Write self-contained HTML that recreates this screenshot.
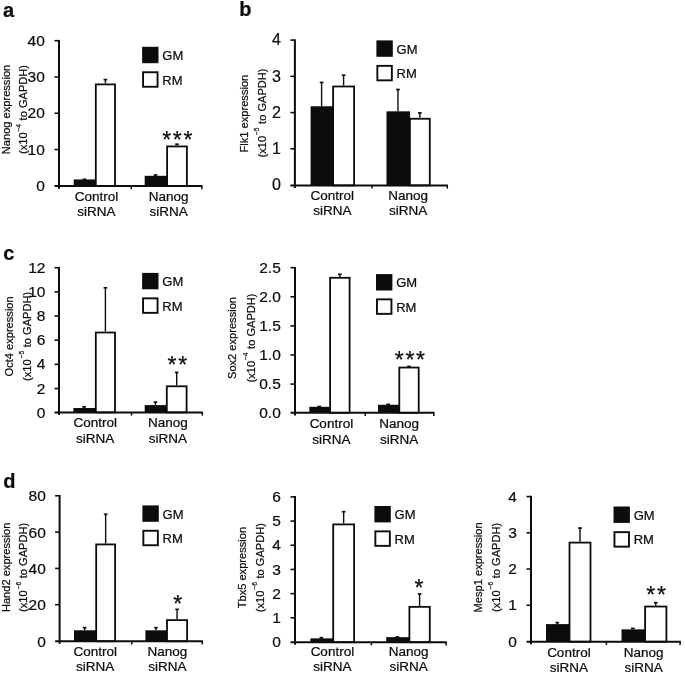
<!DOCTYPE html>
<html>
<head>
<meta charset="utf-8">
<title>Figure</title>
<style>
html, body { margin: 0; padding: 0; background: #ffffff; }
body { width: 685px; height: 674px; overflow: hidden; }
svg { display: block; font-family: "Liberation Sans", sans-serif; fill: #0c0c0c; will-change: transform; }
text { stroke: #0c0c0c; stroke-width: 0.22px; }
</style>
</head>
<body>
<svg width="685" height="674" viewBox="0 0 685 674">
<rect x="0" y="0" width="685" height="674" fill="#ffffff"/>
<g>
<line x1="84.45" y1="179.45" x2="84.45" y2="179.02" stroke="#0c0c0c" stroke-width="1.4"/>
<line x1="82.65" y1="179.32" x2="86.25" y2="179.32" stroke="#0c0c0c" stroke-width="1.7"/>
<rect x="73.7" y="179.45" width="22.2" height="6.65" fill="#0c0c0c"/>
<line x1="105.4" y1="83.5" x2="105.4" y2="79.33" stroke="#0c0c0c" stroke-width="1.4"/>
<line x1="103.6" y1="79.63" x2="107.2" y2="79.63" stroke="#0c0c0c" stroke-width="1.7"/>
<rect x="95.8" y="84.4" width="19.2" height="101.7" fill="#fff" stroke="#0c0c0c" stroke-width="1.8"/>
<line x1="155.55" y1="175.82" x2="155.55" y2="174.74" stroke="#0c0c0c" stroke-width="1.4"/>
<line x1="153.75" y1="175.04" x2="157.35" y2="175.04" stroke="#0c0c0c" stroke-width="1.7"/>
<rect x="144.7" y="175.82" width="22.4" height="10.28" fill="#0c0c0c"/>
<line x1="177" y1="145.53" x2="177" y2="143.9" stroke="#0c0c0c" stroke-width="1.4"/>
<line x1="175.2" y1="144.2" x2="178.8" y2="144.2" stroke="#0c0c0c" stroke-width="1.7"/>
<rect x="167.1" y="146.43" width="19.8" height="39.67" fill="#fff" stroke="#0c0c0c" stroke-width="1.8"/>
<line x1="59" y1="39.9" x2="59" y2="188.7" stroke="#0c0c0c" stroke-width="2.0"/>
<line x1="54.5" y1="186.1" x2="202.5" y2="186.1" stroke="#0c0c0c" stroke-width="2.0"/>
<text x="44.8" y="190.85" font-size="15.5" text-anchor="end">0</text>
<line x1="54.5" y1="149.53" x2="59" y2="149.53" stroke="#0c0c0c" stroke-width="1.6"/>
<text x="44.8" y="154.58" font-size="15.5" text-anchor="end">10</text>
<line x1="54.5" y1="113.25" x2="59" y2="113.25" stroke="#0c0c0c" stroke-width="1.6"/>
<text x="44.8" y="118.3" font-size="15.5" text-anchor="end">20</text>
<line x1="54.5" y1="76.97" x2="59" y2="76.97" stroke="#0c0c0c" stroke-width="1.6"/>
<text x="44.8" y="82.02" font-size="15.5" text-anchor="end">30</text>
<line x1="54.5" y1="40.7" x2="59" y2="40.7" stroke="#0c0c0c" stroke-width="1.6"/>
<text x="44.8" y="45.75" font-size="15.5" text-anchor="end">40</text>
<line x1="131.25" y1="186.1" x2="131.25" y2="189.3" stroke="#0c0c0c" stroke-width="1.5"/>
<line x1="201.8" y1="186.1" x2="201.8" y2="189.3" stroke="#0c0c0c" stroke-width="1.5"/>
<text x="96.5" y="200.6" font-size="13.5" text-anchor="middle">Control</text>
<text x="96.5" y="216.1" font-size="13.5" text-anchor="middle">siRNA</text>
<text x="168.7" y="200.6" font-size="13.5" text-anchor="middle">Nanog</text>
<text x="168.7" y="216.1" font-size="13.5" text-anchor="middle">siRNA</text>
<rect x="142.1" y="46.8" width="16.4" height="16.4" fill="#0c0c0c"/>
<rect x="143.05" y="72.25" width="14.5" height="14.5" fill="#fff" stroke="#0c0c0c" stroke-width="1.9"/>
<text x="162.3" y="60.05" font-size="13">GM</text>
<text x="162.3" y="84.55" font-size="13">RM</text>
<text x="178.15" y="147.9" font-size="23" text-anchor="middle" letter-spacing="1.7" stroke="#0c0c0c" stroke-width="0.45">***</text>
<text transform="translate(10 109.5) rotate(-90)" font-size="11.1" text-anchor="middle">Nanog expression</text>
<text transform="translate(27 109.5) rotate(-90)" font-size="11.1" text-anchor="middle">(x10<tspan dy="-6.5" dx="1" font-size="6.5">−4</tspan><tspan dy="6.5" dx="0.5"> to GAPDH)</tspan></text>
<text x="3.1" y="16.5" font-size="20" font-weight="bold">a</text>
</g>
<g>
<line x1="321.6" y1="106.26" x2="321.6" y2="82.15" stroke="#0c0c0c" stroke-width="1.4"/>
<line x1="319.8" y1="82.45" x2="323.4" y2="82.45" stroke="#0c0c0c" stroke-width="1.7"/>
<rect x="310.6" y="106.26" width="22.7" height="79.14" fill="#0c0c0c"/>
<line x1="343.6" y1="85.59" x2="343.6" y2="74.9" stroke="#0c0c0c" stroke-width="1.4"/>
<line x1="341.8" y1="75.2" x2="345.4" y2="75.2" stroke="#0c0c0c" stroke-width="1.7"/>
<rect x="333.1" y="86.49" width="21" height="98.91" fill="#fff" stroke="#0c0c0c" stroke-width="1.8"/>
<line x1="397.95" y1="111.33" x2="397.95" y2="89.22" stroke="#0c0c0c" stroke-width="1.4"/>
<line x1="396.15" y1="89.52" x2="399.75" y2="89.52" stroke="#0c0c0c" stroke-width="1.7"/>
<rect x="386.5" y="111.33" width="23.6" height="74.07" fill="#0c0c0c"/>
<line x1="419.85" y1="117.86" x2="419.85" y2="112.6" stroke="#0c0c0c" stroke-width="1.4"/>
<line x1="418.05" y1="112.9" x2="421.65" y2="112.9" stroke="#0c0c0c" stroke-width="1.7"/>
<rect x="409.9" y="118.76" width="19.9" height="66.64" fill="#fff" stroke="#0c0c0c" stroke-width="1.8"/>
<line x1="294.9" y1="39.3" x2="294.9" y2="188" stroke="#0c0c0c" stroke-width="2.0"/>
<line x1="290.4" y1="185.4" x2="448" y2="185.4" stroke="#0c0c0c" stroke-width="2.0"/>
<text x="280.9" y="190.25" font-size="16" text-anchor="end">0</text>
<line x1="290.4" y1="148.85" x2="294.9" y2="148.85" stroke="#0c0c0c" stroke-width="1.6"/>
<text x="280.9" y="154" font-size="16" text-anchor="end">1</text>
<line x1="290.4" y1="112.6" x2="294.9" y2="112.6" stroke="#0c0c0c" stroke-width="1.6"/>
<text x="280.9" y="117.75" font-size="16" text-anchor="end">2</text>
<line x1="290.4" y1="76.35" x2="294.9" y2="76.35" stroke="#0c0c0c" stroke-width="1.6"/>
<text x="280.9" y="81.5" font-size="16" text-anchor="end">3</text>
<line x1="290.4" y1="40.1" x2="294.9" y2="40.1" stroke="#0c0c0c" stroke-width="1.6"/>
<text x="280.9" y="45.25" font-size="16" text-anchor="end">4</text>
<line x1="371.95" y1="185.4" x2="371.95" y2="188.6" stroke="#0c0c0c" stroke-width="1.5"/>
<line x1="447.3" y1="185.4" x2="447.3" y2="188.6" stroke="#0c0c0c" stroke-width="1.5"/>
<text x="332.3" y="199.9" font-size="13.5" text-anchor="middle">Control</text>
<text x="332.3" y="215" font-size="13.5" text-anchor="middle">siRNA</text>
<text x="408.2" y="199.9" font-size="13.5" text-anchor="middle">Nanog</text>
<text x="408.2" y="215" font-size="13.5" text-anchor="middle">siRNA</text>
<rect x="376.4" y="40.4" width="16.4" height="16.4" fill="#0c0c0c"/>
<rect x="377.35" y="65.85" width="14.5" height="14.5" fill="#fff" stroke="#0c0c0c" stroke-width="1.9"/>
<text x="396.6" y="53.65" font-size="13">GM</text>
<text x="396.6" y="78.15" font-size="13">RM</text>
<text transform="translate(248 113.6) rotate(-90)" font-size="11.1" text-anchor="middle">Flk1 expression</text>
<text transform="translate(265.8 113) rotate(-90)" font-size="11.1" text-anchor="middle">(x10<tspan dy="-6.5" dx="1" font-size="6.5">−5</tspan><tspan dy="6.5" dx="0.5"> to GAPDH)</tspan></text>
<text x="239.2" y="15.8" font-size="20" font-weight="bold">b</text>
</g>
<g>
<line x1="84.15" y1="407.99" x2="84.15" y2="406.54" stroke="#0c0c0c" stroke-width="1.4"/>
<line x1="82.35" y1="406.84" x2="85.95" y2="406.84" stroke="#0c0c0c" stroke-width="1.7"/>
<rect x="73.4" y="407.99" width="22.2" height="4.41" fill="#0c0c0c"/>
<line x1="105.4" y1="331.62" x2="105.4" y2="287.52" stroke="#0c0c0c" stroke-width="1.4"/>
<line x1="103.6" y1="287.82" x2="107.2" y2="287.82" stroke="#0c0c0c" stroke-width="1.7"/>
<rect x="95.8" y="332.52" width="19.2" height="79.88" fill="#fff" stroke="#0c0c0c" stroke-width="1.8"/>
<line x1="155.45" y1="405.09" x2="155.45" y2="401.82" stroke="#0c0c0c" stroke-width="1.4"/>
<line x1="153.65" y1="402.12" x2="157.25" y2="402.12" stroke="#0c0c0c" stroke-width="1.7"/>
<rect x="144.7" y="405.09" width="22.2" height="7.31" fill="#0c0c0c"/>
<line x1="176.7" y1="385.39" x2="176.7" y2="372.1" stroke="#0c0c0c" stroke-width="1.4"/>
<line x1="174.9" y1="372.4" x2="178.5" y2="372.4" stroke="#0c0c0c" stroke-width="1.7"/>
<rect x="166.8" y="386.29" width="19.8" height="26.11" fill="#fff" stroke="#0c0c0c" stroke-width="1.8"/>
<line x1="59" y1="266.9" x2="59" y2="415" stroke="#0c0c0c" stroke-width="2.0"/>
<line x1="54.5" y1="412.4" x2="203" y2="412.4" stroke="#0c0c0c" stroke-width="2.0"/>
<text x="45.4" y="417.75" font-size="15.5" text-anchor="end">0</text>
<line x1="54.5" y1="388.53" x2="59" y2="388.53" stroke="#0c0c0c" stroke-width="1.6"/>
<text x="45.4" y="393.58" font-size="15.5" text-anchor="end">2</text>
<line x1="54.5" y1="364.37" x2="59" y2="364.37" stroke="#0c0c0c" stroke-width="1.6"/>
<text x="45.4" y="369.42" font-size="15.5" text-anchor="end">4</text>
<line x1="54.5" y1="340.2" x2="59" y2="340.2" stroke="#0c0c0c" stroke-width="1.6"/>
<text x="45.4" y="345.25" font-size="15.5" text-anchor="end">6</text>
<line x1="54.5" y1="316.03" x2="59" y2="316.03" stroke="#0c0c0c" stroke-width="1.6"/>
<text x="45.4" y="321.08" font-size="15.5" text-anchor="end">8</text>
<line x1="54.5" y1="291.87" x2="59" y2="291.87" stroke="#0c0c0c" stroke-width="1.6"/>
<text x="45.4" y="296.92" font-size="15.5" text-anchor="end">10</text>
<line x1="54.5" y1="267.7" x2="59" y2="267.7" stroke="#0c0c0c" stroke-width="1.6"/>
<text x="45.4" y="272.75" font-size="15.5" text-anchor="end">12</text>
<line x1="131.5" y1="412.4" x2="131.5" y2="415.6" stroke="#0c0c0c" stroke-width="1.5"/>
<line x1="202.3" y1="412.4" x2="202.3" y2="415.6" stroke="#0c0c0c" stroke-width="1.5"/>
<text x="95.2" y="427.4" font-size="13.5" text-anchor="middle">Control</text>
<text x="95.2" y="442.7" font-size="13.5" text-anchor="middle">siRNA</text>
<text x="167.8" y="427.4" font-size="13.5" text-anchor="middle">Nanog</text>
<text x="167.8" y="442.7" font-size="13.5" text-anchor="middle">siRNA</text>
<rect x="142.1" y="272.9" width="16.4" height="16.4" fill="#0c0c0c"/>
<rect x="143.05" y="298.35" width="14.5" height="14.5" fill="#fff" stroke="#0c0c0c" stroke-width="1.9"/>
<text x="162.3" y="286.15" font-size="13">GM</text>
<text x="162.3" y="310.65" font-size="13">RM</text>
<text x="178.15" y="372.65" font-size="23" text-anchor="middle" letter-spacing="1.7" stroke="#0c0c0c" stroke-width="0.45">**</text>
<text transform="translate(12.5 336.4) rotate(-90)" font-size="11.1" text-anchor="middle">Oct4 expression</text>
<text transform="translate(30.6 336.4) rotate(-90)" font-size="11.1" text-anchor="middle">(x10<tspan dy="-6.5" dx="1" font-size="6.5">−5</tspan><tspan dy="6.5" dx="0.5"> to GAPDH)</tspan></text>
<text x="3.3" y="260.2" font-size="20" font-weight="bold">c</text>
</g>
<g>
<line x1="319.25" y1="406.8" x2="319.25" y2="406.22" stroke="#0c0c0c" stroke-width="1.4"/>
<line x1="317.45" y1="406.52" x2="321.05" y2="406.52" stroke="#0c0c0c" stroke-width="1.7"/>
<rect x="309.3" y="406.8" width="20.6" height="6" fill="#0c0c0c"/>
<line x1="339.85" y1="276.9" x2="339.85" y2="273.99" stroke="#0c0c0c" stroke-width="1.4"/>
<line x1="338.05" y1="274.29" x2="341.65" y2="274.29" stroke="#0c0c0c" stroke-width="1.7"/>
<rect x="330.1" y="277.8" width="19.5" height="135" fill="#fff" stroke="#0c0c0c" stroke-width="1.8"/>
<line x1="388.2" y1="404.76" x2="388.2" y2="404.06" stroke="#0c0c0c" stroke-width="1.4"/>
<line x1="386.4" y1="404.36" x2="390" y2="404.36" stroke="#0c0c0c" stroke-width="1.7"/>
<rect x="378" y="404.76" width="21.1" height="8.04" fill="#0c0c0c"/>
<line x1="409" y1="366.64" x2="409" y2="366.17" stroke="#0c0c0c" stroke-width="1.4"/>
<line x1="407.2" y1="366.47" x2="410.8" y2="366.47" stroke="#0c0c0c" stroke-width="1.7"/>
<rect x="399.3" y="367.54" width="19.4" height="45.26" fill="#fff" stroke="#0c0c0c" stroke-width="1.8"/>
<line x1="295" y1="266.9" x2="295" y2="415.4" stroke="#0c0c0c" stroke-width="2.0"/>
<line x1="290.5" y1="412.8" x2="434.5" y2="412.8" stroke="#0c0c0c" stroke-width="2.0"/>
<text x="280.8" y="418.25" font-size="15.5" text-anchor="end">0.0</text>
<line x1="290.5" y1="384.1" x2="295" y2="384.1" stroke="#0c0c0c" stroke-width="1.6"/>
<text x="280.8" y="389.15" font-size="15.5" text-anchor="end">0.5</text>
<line x1="290.5" y1="355" x2="295" y2="355" stroke="#0c0c0c" stroke-width="1.6"/>
<text x="280.8" y="360.05" font-size="15.5" text-anchor="end">1.0</text>
<line x1="290.5" y1="325.9" x2="295" y2="325.9" stroke="#0c0c0c" stroke-width="1.6"/>
<text x="280.8" y="330.95" font-size="15.5" text-anchor="end">1.5</text>
<line x1="290.5" y1="296.8" x2="295" y2="296.8" stroke="#0c0c0c" stroke-width="1.6"/>
<text x="280.8" y="301.85" font-size="15.5" text-anchor="end">2.0</text>
<line x1="290.5" y1="267.7" x2="295" y2="267.7" stroke="#0c0c0c" stroke-width="1.6"/>
<text x="280.8" y="272.75" font-size="15.5" text-anchor="end">2.5</text>
<line x1="365.25" y1="412.8" x2="365.25" y2="416" stroke="#0c0c0c" stroke-width="1.5"/>
<line x1="433.8" y1="412.8" x2="433.8" y2="416" stroke="#0c0c0c" stroke-width="1.5"/>
<text x="331.4" y="428.4" font-size="13.5" text-anchor="middle">Control</text>
<text x="331.4" y="443.7" font-size="13.5" text-anchor="middle">siRNA</text>
<text x="399.1" y="428.4" font-size="13.5" text-anchor="middle">Nanog</text>
<text x="399.1" y="443.7" font-size="13.5" text-anchor="middle">siRNA</text>
<rect x="376" y="274.1" width="16.4" height="16.4" fill="#0c0c0c"/>
<rect x="376.95" y="299.35" width="14.5" height="14.5" fill="#fff" stroke="#0c0c0c" stroke-width="1.9"/>
<text x="396.2" y="287.35" font-size="13">GM</text>
<text x="396.2" y="311.65" font-size="13">RM</text>
<text x="410.75" y="368.25" font-size="23" text-anchor="middle" letter-spacing="1.7" stroke="#0c0c0c" stroke-width="0.45">***</text>
<text transform="translate(235.9 338) rotate(-90)" font-size="11.1" text-anchor="middle">Sox2 expression</text>
<text transform="translate(254.8 338) rotate(-90)" font-size="11.1" text-anchor="middle">(x10<tspan dy="-6.5" dx="1" font-size="6.5">−4</tspan><tspan dy="6.5" dx="0.5"> to GAPDH)</tspan></text>
</g>
<g>
<line x1="84.65" y1="630.29" x2="84.65" y2="627.39" stroke="#0c0c0c" stroke-width="1.4"/>
<line x1="82.85" y1="627.69" x2="86.45" y2="627.69" stroke="#0c0c0c" stroke-width="1.7"/>
<rect x="74" y="630.29" width="22" height="10.96" fill="#0c0c0c"/>
<line x1="105.65" y1="543.53" x2="105.65" y2="513.95" stroke="#0c0c0c" stroke-width="1.4"/>
<line x1="103.85" y1="514.25" x2="107.45" y2="514.25" stroke="#0c0c0c" stroke-width="1.7"/>
<rect x="96.2" y="544.43" width="18.9" height="96.82" fill="#fff" stroke="#0c0c0c" stroke-width="1.8"/>
<line x1="155.95" y1="630.29" x2="155.95" y2="627.39" stroke="#0c0c0c" stroke-width="1.4"/>
<line x1="154.15" y1="627.69" x2="157.75" y2="627.69" stroke="#0c0c0c" stroke-width="1.7"/>
<rect x="145.4" y="630.29" width="21.8" height="10.96" fill="#0c0c0c"/>
<line x1="177.05" y1="619.22" x2="177.05" y2="609.06" stroke="#0c0c0c" stroke-width="1.4"/>
<line x1="175.25" y1="609.36" x2="178.85" y2="609.36" stroke="#0c0c0c" stroke-width="1.7"/>
<rect x="167" y="620.12" width="20.1" height="21.13" fill="#fff" stroke="#0c0c0c" stroke-width="1.8"/>
<line x1="59.6" y1="495" x2="59.6" y2="643.85" stroke="#0c0c0c" stroke-width="2.0"/>
<line x1="55.1" y1="641.25" x2="203" y2="641.25" stroke="#0c0c0c" stroke-width="2.0"/>
<text x="45.8" y="646.55" font-size="15.5" text-anchor="end">0</text>
<line x1="55.1" y1="604.7" x2="59.6" y2="604.7" stroke="#0c0c0c" stroke-width="1.6"/>
<text x="45.8" y="610.25" font-size="15.5" text-anchor="end">20</text>
<line x1="55.1" y1="568.4" x2="59.6" y2="568.4" stroke="#0c0c0c" stroke-width="1.6"/>
<text x="45.8" y="573.95" font-size="15.5" text-anchor="end">40</text>
<line x1="55.1" y1="532.1" x2="59.6" y2="532.1" stroke="#0c0c0c" stroke-width="1.6"/>
<text x="45.8" y="537.65" font-size="15.5" text-anchor="end">60</text>
<line x1="55.1" y1="495.8" x2="59.6" y2="495.8" stroke="#0c0c0c" stroke-width="1.6"/>
<text x="45.8" y="501.35" font-size="15.5" text-anchor="end">80</text>
<line x1="131.8" y1="641.25" x2="131.8" y2="644.45" stroke="#0c0c0c" stroke-width="1.5"/>
<line x1="202.3" y1="641.25" x2="202.3" y2="644.45" stroke="#0c0c0c" stroke-width="1.5"/>
<text x="95.2" y="656.3" font-size="13.5" text-anchor="middle">Control</text>
<text x="95.2" y="670.6" font-size="13.5" text-anchor="middle">siRNA</text>
<text x="167.5" y="656.3" font-size="13.5" text-anchor="middle">Nanog</text>
<text x="167.5" y="670.6" font-size="13.5" text-anchor="middle">siRNA</text>
<rect x="142.4" y="505.4" width="16.4" height="16.4" fill="#0c0c0c"/>
<rect x="143.35" y="530.75" width="14.5" height="14.5" fill="#fff" stroke="#0c0c0c" stroke-width="1.9"/>
<text x="162.6" y="518.65" font-size="13">GM</text>
<text x="162.6" y="543.05" font-size="13">RM</text>
<text x="178.65" y="612.4" font-size="23" text-anchor="middle" letter-spacing="1.7" stroke="#0c0c0c" stroke-width="0.45">*</text>
<text transform="translate(9.8 567.4) rotate(-90)" font-size="11.1" text-anchor="middle">Hand2 expression</text>
<text transform="translate(27 567.4) rotate(-90)" font-size="11.1" text-anchor="middle">(x10<tspan dy="-6.5" dx="1" font-size="6.5">−6</tspan><tspan dy="6.5" dx="0.5"> to GAPDH)</tspan></text>
<text x="3.2" y="488" font-size="20" font-weight="bold">d</text>
</g>
<g>
<line x1="321.35" y1="638.37" x2="321.35" y2="637.41" stroke="#0c0c0c" stroke-width="1.4"/>
<line x1="319.55" y1="637.71" x2="323.15" y2="637.71" stroke="#0c0c0c" stroke-width="1.7"/>
<rect x="310.4" y="638.37" width="22.6" height="3.83" fill="#0c0c0c"/>
<line x1="343.65" y1="523.5" x2="343.65" y2="511.41" stroke="#0c0c0c" stroke-width="1.4"/>
<line x1="341.85" y1="511.71" x2="345.45" y2="511.71" stroke="#0c0c0c" stroke-width="1.7"/>
<rect x="333.2" y="524.4" width="20.9" height="117.8" fill="#fff" stroke="#0c0c0c" stroke-width="1.8"/>
<line x1="397.35" y1="637.16" x2="397.35" y2="636.68" stroke="#0c0c0c" stroke-width="1.4"/>
<line x1="395.55" y1="636.98" x2="399.15" y2="636.98" stroke="#0c0c0c" stroke-width="1.7"/>
<rect x="386.2" y="637.16" width="23" height="5.04" fill="#0c0c0c"/>
<line x1="419.6" y1="605.97" x2="419.6" y2="593.63" stroke="#0c0c0c" stroke-width="1.4"/>
<line x1="417.8" y1="593.93" x2="421.4" y2="593.93" stroke="#0c0c0c" stroke-width="1.7"/>
<rect x="409.4" y="606.87" width="20.4" height="35.33" fill="#fff" stroke="#0c0c0c" stroke-width="1.8"/>
<line x1="295" y1="496.1" x2="295" y2="644.8" stroke="#0c0c0c" stroke-width="2.0"/>
<line x1="290.5" y1="642.2" x2="446.8" y2="642.2" stroke="#0c0c0c" stroke-width="2.0"/>
<text x="280.8" y="647.05" font-size="15.5" text-anchor="end">0</text>
<line x1="290.5" y1="617.82" x2="295" y2="617.82" stroke="#0c0c0c" stroke-width="1.6"/>
<text x="280.8" y="622.87" font-size="15.5" text-anchor="end">1</text>
<line x1="290.5" y1="593.63" x2="295" y2="593.63" stroke="#0c0c0c" stroke-width="1.6"/>
<text x="280.8" y="598.68" font-size="15.5" text-anchor="end">2</text>
<line x1="290.5" y1="569.45" x2="295" y2="569.45" stroke="#0c0c0c" stroke-width="1.6"/>
<text x="280.8" y="574.5" font-size="15.5" text-anchor="end">3</text>
<line x1="290.5" y1="545.27" x2="295" y2="545.27" stroke="#0c0c0c" stroke-width="1.6"/>
<text x="280.8" y="550.32" font-size="15.5" text-anchor="end">4</text>
<line x1="290.5" y1="521.08" x2="295" y2="521.08" stroke="#0c0c0c" stroke-width="1.6"/>
<text x="280.8" y="526.13" font-size="15.5" text-anchor="end">5</text>
<line x1="290.5" y1="496.9" x2="295" y2="496.9" stroke="#0c0c0c" stroke-width="1.6"/>
<text x="280.8" y="501.95" font-size="15.5" text-anchor="end">6</text>
<line x1="371.4" y1="642.2" x2="371.4" y2="645.4" stroke="#0c0c0c" stroke-width="1.5"/>
<line x1="446.1" y1="642.2" x2="446.1" y2="645.4" stroke="#0c0c0c" stroke-width="1.5"/>
<text x="332.4" y="656.4" font-size="13.5" text-anchor="middle">Control</text>
<text x="332.4" y="671.1" font-size="13.5" text-anchor="middle">siRNA</text>
<text x="408.6" y="656.4" font-size="13.5" text-anchor="middle">Nanog</text>
<text x="408.6" y="671.1" font-size="13.5" text-anchor="middle">siRNA</text>
<rect x="374.4" y="506" width="16.4" height="16.4" fill="#0c0c0c"/>
<rect x="375.35" y="531.35" width="14.5" height="14.5" fill="#fff" stroke="#0c0c0c" stroke-width="1.9"/>
<text x="394.6" y="519.25" font-size="13">GM</text>
<text x="394.6" y="543.65" font-size="13">RM</text>
<text x="419.85" y="596.4" font-size="23" text-anchor="middle" letter-spacing="1.7" stroke="#0c0c0c" stroke-width="0.45">*</text>
<text transform="translate(245.7 567.6) rotate(-90)" font-size="11.1" text-anchor="middle">Tbx5 expression</text>
<text transform="translate(263.5 567.6) rotate(-90)" font-size="11.1" text-anchor="middle">(x10<tspan dy="-6.5" dx="1" font-size="6.5">−6</tspan><tspan dy="6.5" dx="0.5"> to GAPDH)</tspan></text>
</g>
<g>
<line x1="557.3" y1="624.11" x2="557.3" y2="622.3" stroke="#0c0c0c" stroke-width="1.4"/>
<line x1="555.5" y1="622.6" x2="559.1" y2="622.6" stroke="#0c0c0c" stroke-width="1.7"/>
<rect x="546" y="624.11" width="23.3" height="17.64" fill="#0c0c0c"/>
<line x1="580" y1="541.7" x2="580" y2="527.75" stroke="#0c0c0c" stroke-width="1.4"/>
<line x1="578.2" y1="528.05" x2="581.8" y2="528.05" stroke="#0c0c0c" stroke-width="1.7"/>
<rect x="569.5" y="542.6" width="21" height="99.15" fill="#fff" stroke="#0c0c0c" stroke-width="1.8"/>
<line x1="632.85" y1="629.36" x2="632.85" y2="628.1" stroke="#0c0c0c" stroke-width="1.4"/>
<line x1="631.05" y1="628.4" x2="634.65" y2="628.4" stroke="#0c0c0c" stroke-width="1.7"/>
<rect x="621.5" y="629.36" width="23.4" height="12.39" fill="#0c0c0c"/>
<line x1="655.75" y1="605.64" x2="655.75" y2="602.38" stroke="#0c0c0c" stroke-width="1.4"/>
<line x1="653.95" y1="602.68" x2="657.55" y2="602.68" stroke="#0c0c0c" stroke-width="1.7"/>
<rect x="645.1" y="606.54" width="21.3" height="35.21" fill="#fff" stroke="#0c0c0c" stroke-width="1.8"/>
<line x1="531" y1="495.8" x2="531" y2="644.35" stroke="#0c0c0c" stroke-width="2.0"/>
<line x1="526.5" y1="641.75" x2="680.8" y2="641.75" stroke="#0c0c0c" stroke-width="2.0"/>
<text x="516.8" y="646.55" font-size="15.5" text-anchor="end">0</text>
<line x1="526.5" y1="605.27" x2="531" y2="605.27" stroke="#0c0c0c" stroke-width="1.6"/>
<text x="516.8" y="610.32" font-size="15.5" text-anchor="end">1</text>
<line x1="526.5" y1="569.05" x2="531" y2="569.05" stroke="#0c0c0c" stroke-width="1.6"/>
<text x="516.8" y="574.1" font-size="15.5" text-anchor="end">2</text>
<line x1="526.5" y1="532.83" x2="531" y2="532.83" stroke="#0c0c0c" stroke-width="1.6"/>
<text x="516.8" y="537.88" font-size="15.5" text-anchor="end">3</text>
<line x1="526.5" y1="496.6" x2="531" y2="496.6" stroke="#0c0c0c" stroke-width="1.6"/>
<text x="516.8" y="501.65" font-size="15.5" text-anchor="end">4</text>
<line x1="606.4" y1="641.75" x2="606.4" y2="644.95" stroke="#0c0c0c" stroke-width="1.5"/>
<line x1="680.1" y1="641.75" x2="680.1" y2="644.95" stroke="#0c0c0c" stroke-width="1.5"/>
<text x="568.9" y="657.1" font-size="13.5" text-anchor="middle">Control</text>
<text x="568.9" y="672.1" font-size="13.5" text-anchor="middle">siRNA</text>
<text x="643.7" y="657.1" font-size="13.5" text-anchor="middle">Nanog</text>
<text x="643.7" y="672.1" font-size="13.5" text-anchor="middle">siRNA</text>
<rect x="613.5" y="506.5" width="16.4" height="16.4" fill="#0c0c0c"/>
<rect x="614.45" y="532.15" width="14.5" height="14.5" fill="#fff" stroke="#0c0c0c" stroke-width="1.9"/>
<text x="633.7" y="519.75" font-size="13">GM</text>
<text x="633.7" y="544.45" font-size="13">RM</text>
<text x="656.95" y="602.8" font-size="23" text-anchor="middle" letter-spacing="1.7" stroke="#0c0c0c" stroke-width="0.45">**</text>
<text transform="translate(481.7 567.4) rotate(-90)" font-size="11.1" text-anchor="middle">Mesp1 expression</text>
<text transform="translate(499.5 567.4) rotate(-90)" font-size="11.1" text-anchor="middle">(x10<tspan dy="-6.5" dx="1" font-size="6.5">−6</tspan><tspan dy="6.5" dx="0.5"> to GAPDH)</tspan></text>
</g>
</svg>
</body>
</html>
